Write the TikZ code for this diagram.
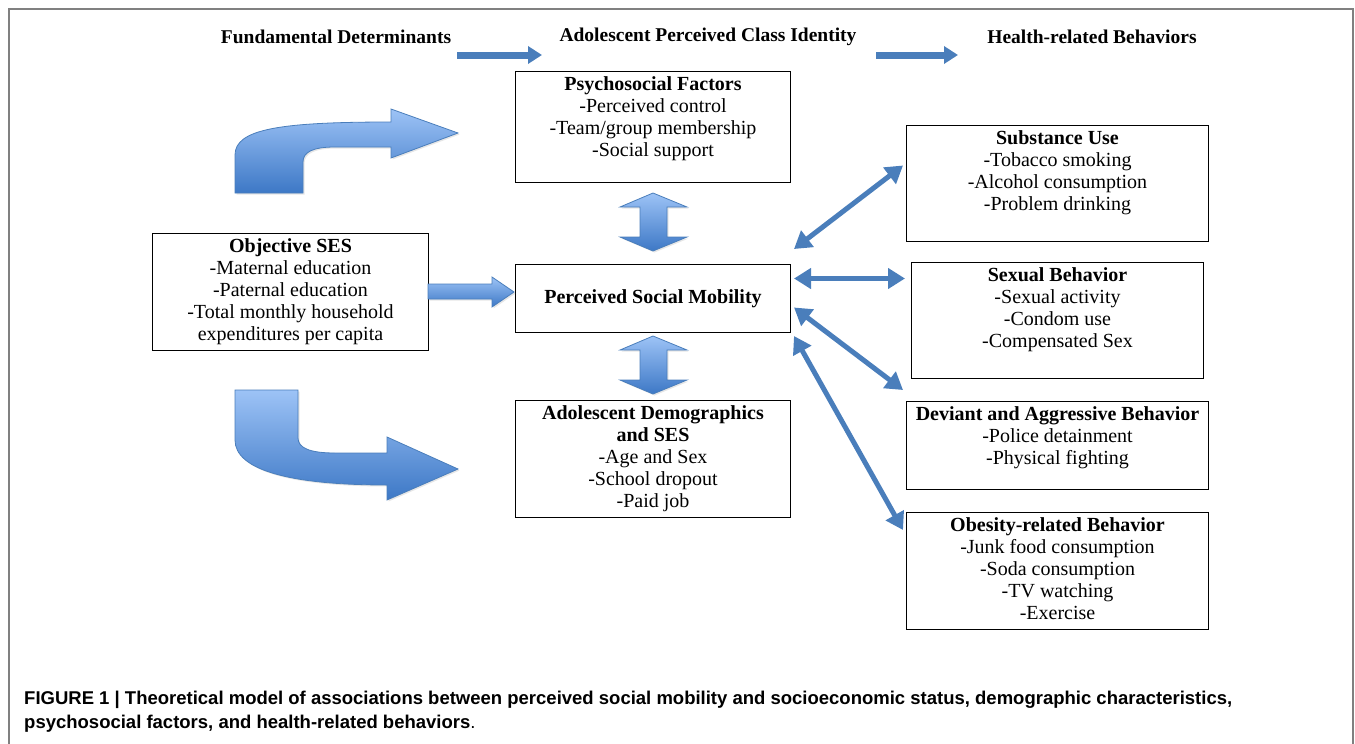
\documentclass[tikz,border=0pt]{standalone}
\usepackage{fontspec}
\setmainfont{Liberation Serif}
\newfontfamily\capfont{Liberation Sans}
\usetikzlibrary{arrows.meta,shadows}

\definecolor{linkblue}{HTML}{4A7EBB}
\definecolor{arrowlight}{HTML}{9DC3F6}
\definecolor{arrowdark}{HTML}{3D78C6}
\definecolor{framegray}{HTML}{808080}

% text block that sits at the top of a fixed box
\newcommand{\boxtext}[3]{\begin{minipage}[c][#1][t]{#2}\centering\strut #3\end{minipage}}

\tikzset{
  factorbox/.style={draw, line width=1pt, inner sep=3.5pt, anchor=north west, font=\fontsize{20}{22}\selectfont},
  header/.style={font=\fontsize{19.5}{22}\selectfont\bfseries},
  link/.style={linkblue, line width=5pt, {Triangle[width=20pt,length=17pt]}-{Triangle[width=20pt,length=17pt]}},
  hdrarrow/.style={linkblue, line width=7pt, -{Triangle[width=17pt,length=14pt]}},
  blockarrow/.style={draw=linkblue, line width=0.8pt, top color=arrowlight, bottom color=arrowdark,
    drop shadow={shadow xshift=1.5pt, shadow yshift=-1.5pt, opacity=0.2}}
}

\begin{document}
\begin{tikzpicture}[x=1pt,y=-1pt]
            \useasboundingbox (0,0) rectangle (1355,744);
            \draw[framegray, line width=2pt] (9,744) -- (9,9) -- (1353,9) -- (1353,744);
            % headers
            \node[header] (fund) at (336,37) {Fundamental Determinants};
            \node[header] (ident) at (708,37) {Adolescent Perceived Class Identity};
            \node[header] (health) at (1092,37) {Health-related Behaviors};
            \draw[hdrarrow] (457,55) -- (542,55);
            \draw[hdrarrow] (876,55) -- (958,55);
            % boxes
            \node[factorbox] (psych) at (515,71) {\boxtext{104pt}{268pt}{\textbf{Psychosocial Factors}\\-Perceived control\\-Team/group membership\\-Social support}};
            \node[factorbox] (objses) at (152,233) {\boxtext{110pt}{269pt}{\textbf{Objective SES}\\-Maternal education\\-Paternal education\\-Total monthly household\\expenditures per capita}};
            \node[factorbox, minimum width=275pt, minimum height=68pt, font=\fontsize{20}{22}\selectfont\bfseries] (psm) at (515,264) {Perceived Social Mobility};
            \node[factorbox] (demo) at (515,400) {\boxtext{110pt}{268pt}{\textbf{Adolescent Demographics}\\\textbf{and SES}\\-Age and Sex\\-School dropout\\-Paid job}};
            \node[factorbox] (subst) at (906,125) {\boxtext{109pt}{295pt}{\textbf{Substance Use}\\-Tobacco smoking\\-Alcohol consumption\\-Problem drinking}};
            \node[factorbox] (sexual) at (911,262) {\boxtext{109pt}{285pt}{\textbf{Sexual Behavior}\\-Sexual activity\\-Condom use\\-Compensated Sex}};
            \node[factorbox] (deviant) at (906,401) {\boxtext{81pt}{295pt}{\textbf{Deviant and Aggressive Behavior}\\-Police detainment\\-Physical fighting}};
            \node[factorbox] (obesity) at (906,512) {\boxtext{110pt}{295pt}{\textbf{Obesity-related Behavior}\\-Junk food consumption\\-Soda consumption\\-TV watching\\-Exercise}};
            % block arrows
            \path[blockarrow] (235,193) -- (235,155) .. controls (235,129) and (280,122) .. (391,122) -- (391,109) -- (458,133) -- (391,158) -- (391,147) -- (335,147) .. controls (313,147) and (303,152) .. (303,162) -- (303,193) -- cycle;
            \path[blockarrow] (235,390) -- (298,390) -- (298,438) .. controls (298,448) and (310,453) .. (335,453) -- (387,453) -- (387,437) -- (458,469) -- (387,500) -- (387,485) .. controls (290,485) and (235,470) .. (235,440) -- cycle;
            \path[blockarrow] (428,284) -- (492,284) -- (492,277) -- (514,292) -- (492,307) -- (492,299) -- (428,299) -- cycle;
            \path[blockarrow] (653,193) -- (687,207) -- (667,207) -- (667,237) -- (687,237) -- (653,251) -- (620,237) -- (640,237) -- (640,207) -- (620,207) -- cycle;
            \path[blockarrow] (653,336) -- (687,350) -- (667,350) -- (667,380) -- (687,380) -- (653,394) -- (620,380) -- (640,380) -- (640,350) -- (620,350) -- cycle;
            % links to behaviors
            \draw[link] ([xshift=3pt,yshift=15pt]psm.north east) -- ([xshift=-3pt,yshift=18pt]subst.west);
            \draw[link] ([xshift=3pt,yshift=20pt]psm.east) -- ([xshift=-6pt,yshift=42pt]sexual.west);
            \draw[link] ([xshift=3pt,yshift=-9pt]psm.east) -- ([xshift=-3pt,yshift=11pt]deviant.north west);
            \draw[link] ([xshift=3pt,yshift=-3pt]psm.south east) -- ([xshift=-3pt,yshift=-18pt]obesity.north west);
            % caption
            \node[anchor=north west, align=left, inner sep=0pt, font=\capfont\bfseries\fontsize{18.5}{23.5}\selectfont] (caption) at (24,691) {FIGURE 1 | Theoretical model of associations between perceived social mobility and socioeconomic status, demographic characteristics,\\psychosocial factors, and health-related behaviors{\mdseries .}};
        \end{tikzpicture}
\end{document}
